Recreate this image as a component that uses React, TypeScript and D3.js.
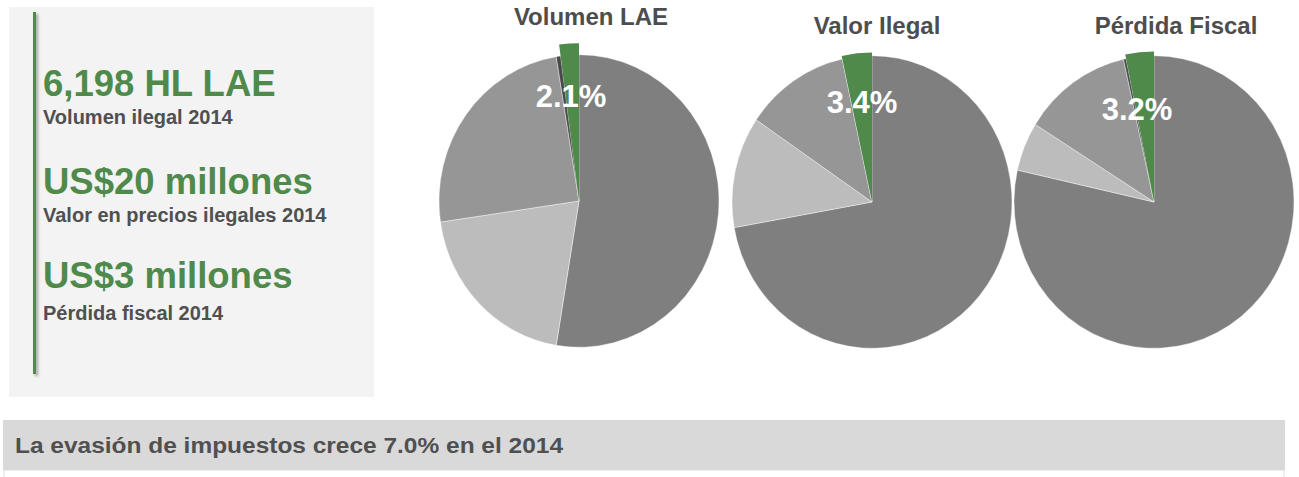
import React from 'react';
import * as d3 from 'd3';

// slice order (clockwise from 12 o'clock): resto, segmento claro, segmento medio, otro, ilegal
const sliceColors = ['#7f7f7f', '#bcbcbc', '#969696', '#4a4a4a', '#4f8a4b'];
const pieTitles = ['Volumen LAE', 'Valor Ilegal', 'Pérdida Fiscal'];
const volumenValues = [52.6, 20.1, 24.7, 0.5, 2.1];
const valorValues = [72.2, 12.3, 12.1, 0, 3.4];
const perdidaValues = [78.5, 5.4, 12.6, 0.3, 3.2];
const pctLabels = ['2.1%', '3.4%', '3.2%'];

const kpiValues = ['6,198 HL LAE', 'US$20 millones', 'US$3 millones'];
const kpiCaptions = ['Volumen ilegal 2014', 'Valor en precios ilegales 2014', 'Pérdida fiscal 2014'];
const footerText = 'La evasión de impuestos crece 7.0% en el 2014';

const W = 1299;
const H = 477;
const GREEN = '#4f8a4b';
const FONT = '"Liberation Sans", Arial, sans-serif';

const pies = [
  { values: volumenValues, cx: 579, cy: 201, greenR: 151, title: { x: 591, y: 25 }, label: { x: 571, y: 107 } },
  { values: valorValues, cx: 872, cy: 202, greenR: 143, title: { x: 877, y: 34 }, label: { x: 862, y: 113 } },
  { values: perdidaValues, cx: 1154, cy: 202, greenR: 144, title: { x: 1176, y: 34 }, label: { x: 1137, y: 120 } },
];

const R = 140;
const SY = 1.045;

const PieChart = ({ cfg, i }) => {
  const arcs = d3.pie<number>().sort(null)(cfg.values);
  const arc = d3.arc<d3.PieArcDatum<number>>().innerRadius(0);
  return (
    <g>
      <g transform={`translate(${cfg.cx},${cfg.cy}) scale(1,${SY})`}>
        {arcs.map((a, j) => (
          <path
            key={j}
            d={arc.outerRadius(j === 4 ? cfg.greenR : R)(a) || ''}
            fill={sliceColors[j]}
            stroke={j === 4 ? 'none' : '#ffffff'}
            strokeWidth={j === 4 ? 0 : 0.4}
          />
        ))}
      </g>
      <text x={cfg.title.x} y={cfg.title.y} textAnchor="middle" fontFamily={FONT}
        fontWeight="bold" fontSize={24} fill="#4d4d4d">{pieTitles[i]}</text>
      <text x={cfg.label.x} y={cfg.label.y} textAnchor="middle" fontFamily={FONT}
        fontWeight="bold" fontSize={31} fill="#ffffff">{pctLabels[i]}</text>
    </g>
  );
};

const kpiY = [96, 194, 288];
const capY = [124, 222, 320];

export default function App() {
  return (
    <svg width={W} height={H} style={{ position: 'absolute', left: 0, top: 0, background: '#ffffff' }}>
      <defs>
        <filter id="shadow" x="-200%" y="-5%" width="500%" height="115%">
          <feDropShadow dx="2" dy="2" stdDeviation="1.5" floodColor="#000" floodOpacity="0.35" />
        </filter>
      </defs>

      {/* left summary panel */}
      <rect x={9} y={7} width={365} height={390} fill="#f3f3f3" />
      <rect x={33} y={12} width={3} height={362} fill={GREEN} filter="url(#shadow)" />
      {kpiValues.map((v, i) => (
        <g key={v}>
          <text x={43} y={kpiY[i]} fontFamily={FONT} fontWeight="bold" fontSize={36.5} fill={GREEN}>{v}</text>
          <text x={43} y={capY[i]} fontFamily={FONT} fontWeight="bold" fontSize={20} fill="#505050">{kpiCaptions[i]}</text>
        </g>
      ))}

      {pies.map((p, i) => <PieChart key={i} cfg={p} i={i} />)}

      {/* footer band */}
      <rect x={4} y={470} width={1280} height={10} fill="#ffffff" stroke="#e2e2e2" strokeWidth={1} />
      <rect x={3} y={420} width={1282} height={50} fill="#d9d9d9" />
      <text x={15} y={453} fontFamily={FONT} fontWeight="bold" fontSize={22} fill="#505050"
        textLength={548} lengthAdjust="spacingAndGlyphs">{footerText}</text>
    </svg>
  );
}
